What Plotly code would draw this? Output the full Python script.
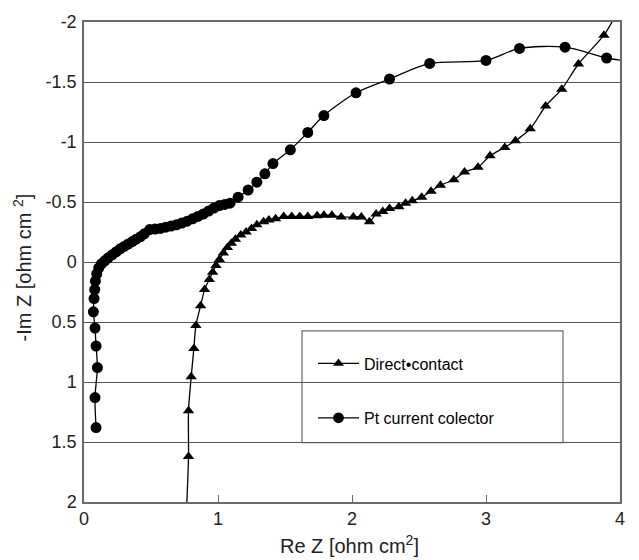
import plotly.graph_objects as go

# ---- data ----
pt_x = [0.09, 0.082, 0.10, 0.09, 0.082, 0.07, 0.075, 0.08, 0.085, 0.095, 0.11, 0.13,
        0.155, 0.18, 0.21, 0.24, 0.27, 0.30, 0.33, 0.36, 0.39, 0.42, 0.45, 0.49, 0.53,
        0.57, 0.61, 0.65, 0.69, 0.73, 0.77, 0.81, 0.85, 0.89, 0.93, 0.97, 1.01, 1.05,
        1.09, 1.15, 1.225, 1.29, 1.35, 1.41, 1.54, 1.67, 1.79, 2.03, 2.28, 2.58, 3.00,
        3.25, 3.59, 3.90]
pt_y = [1.38, 1.13, 0.88, 0.70, 0.55, 0.415, 0.305, 0.23, 0.16, 0.10, 0.05, 0.015,
        -0.01, -0.035, -0.06, -0.085, -0.11, -0.13, -0.15, -0.17, -0.19, -0.21, -0.235,
        -0.27, -0.275, -0.28, -0.29, -0.30, -0.31, -0.325, -0.34, -0.36, -0.38, -0.40,
        -0.425, -0.45, -0.47, -0.48, -0.49, -0.54, -0.60, -0.665, -0.735, -0.82, -0.935,
        -1.08, -1.22, -1.41, -1.525, -1.655, -1.68, -1.78, -1.79, -1.70]
pt_tail_x = [4.05]
pt_tail_y = [-1.675]

dc_x = [0.78, 0.78, 0.80, 0.82, 0.835, 0.87, 0.90, 0.935, 0.96, 0.985, 1.01, 1.04,
        1.07, 1.10, 1.13, 1.17, 1.21, 1.25, 1.29, 1.34, 1.38, 1.43, 1.49, 1.55, 1.61,
        1.67, 1.74, 1.79, 1.85, 1.92, 2.01, 2.07, 2.13, 2.18, 2.23, 2.28, 2.35, 2.40,
        2.45, 2.52, 2.59, 2.66, 2.76, 2.84, 2.94, 3.03, 3.14, 3.22, 3.33, 3.445, 3.565,
        3.69, 3.88]
dc_y = [1.62, 1.24, 0.957, 0.72, 0.53, 0.365, 0.23, 0.145, 0.085, 0.03, -0.02, -0.074,
        -0.12, -0.157, -0.19, -0.225, -0.25, -0.28, -0.31, -0.335, -0.35, -0.36, -0.38,
        -0.38, -0.38, -0.38, -0.385, -0.39, -0.39, -0.375, -0.375, -0.375, -0.335, -0.40,
        -0.42, -0.445, -0.46, -0.49, -0.51, -0.54, -0.59, -0.64, -0.685, -0.75, -0.79,
        -0.885, -0.955, -1.01, -1.11, -1.30, -1.44, -1.65, -1.89]
dc_head_x = [0.766]
dc_head_y = [2.04]
dc_tail_x = [3.96]
dc_tail_y = [-2.04]

x_ticks = [0, 1, 2, 3, 4]
y_ticks = [-2, -1.5, -1, -0.5, 0, 0.5, 1, 1.5, 2]
y_tick_text = ["-2", "-1.5", "-1", "-0.5", "0", "0.5", "1", "1.5", "2"]

names = ["Direct\u2022contact", "Pt current colector"]

FONT = "Liberation Sans, Arial, sans-serif"
GRID = "#555555"
BOX = "#6a6a6a"

# ---- figure ----
W, H = 639, 560
L, R, T, B = 84, 19, 17, 58
pw, ph = W - L - R, H - T - B

def px_x(p):
    return (p - L) / pw

def px_y(p):
    return (H - B - p) / ph

fig = go.Figure()

dcx = dc_head_x + dc_x + dc_tail_x
dcy = dc_head_y + dc_y + dc_tail_y
dc_sizes = [0] + [10] * len(dc_x) + [0]
fig.add_trace(go.Scatter(
    x=dcx, y=dcy, name=names[0], mode="lines+markers", showlegend=True,
    line=dict(color="black", width=1.3, shape="spline", smoothing=0.8),
    marker=dict(symbol="triangle-up", size=dc_sizes, color="black", opacity=1,
                line=dict(width=0)),
    legend="legend",
))

ptx = pt_x + pt_tail_x
pty = pt_y + pt_tail_y
pt_sizes = [11] * len(pt_x) + [0]
fig.add_trace(go.Scatter(
    x=ptx, y=pty, name=names[1], mode="lines+markers", showlegend=True,
    line=dict(color="black", width=1.3, shape="spline", smoothing=0.8),
    marker=dict(symbol="circle", size=pt_sizes, color="black", opacity=1,
                line=dict(width=0)),
    legend="legend2",
))

# legend box
fig.add_shape(type="rect", xref="paper", yref="paper",
              x0=px_x(302), x1=px_x(563), y0=px_y(442), y1=px_y(329),
              line=dict(color=BOX, width=1.2), fillcolor="white", layer="between")

leg_common = dict(bgcolor="rgba(0,0,0,0)", borderwidth=0, xanchor="left",
                  yanchor="middle", itemwidth=41, visible=True,
                  font=dict(family=FONT, size=16, color="black"))
fig.update_layout(
    showlegend=True,
    legend=dict(x=px_x(313), y=px_y(362), **leg_common),
    legend2=dict(x=px_x(313), y=px_y(417), **leg_common),
)

fig.update_xaxes(
    range=[0, 4], tickvals=x_ticks, ticktext=[str(v) for v in x_ticks],
    showgrid=False, zeroline=False,
    showline=True, linecolor=BOX, linewidth=1.5, mirror=True,
    ticks="inside", ticklen=7, tickcolor=BOX, tickwidth=1.2,
    tickfont=dict(family=FONT, size=18, color="#222222"),
)
fig.update_yaxes(
    range=[2, -2], tickvals=y_ticks, ticktext=y_tick_text,
    showgrid=True, gridcolor=GRID, gridwidth=1.2, zeroline=False,
    showline=True, linecolor=BOX, linewidth=1.5, mirror=True,
    ticks="", ticklabelstandoff=2,
    tickfont=dict(family=FONT, size=18, color="#222222"),
)

fig.add_annotation(text="Re Z [ohm cm<sup>2</sup>]", xref="paper", yref="paper",
                   x=px_x(349), y=px_y(545), xanchor="center", yanchor="middle",
                   showarrow=False, font=dict(family=FONT, size=20, color="#222222"))
fig.add_annotation(text="-Im Z [ohm cm <sup>2</sup>]", xref="paper", yref="paper",
                   x=px_x(22), y=px_y(265), xanchor="center", yanchor="middle",
                   textangle=-90, showarrow=False,
                   font=dict(family=FONT, size=20, color="#222222"))

fig.update_layout(
    width=W, height=H, margin=dict(l=L, r=R, t=T, b=B),
    paper_bgcolor="white", plot_bgcolor="white",
    font=dict(family=FONT, color="#222222"),
)

fig.write_html("out.html")
